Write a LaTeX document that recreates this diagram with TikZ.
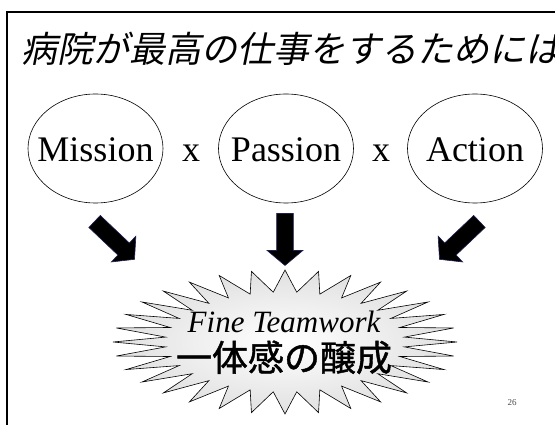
\documentclass[tikz,border=0pt]{standalone}
\usepackage{fontspec}
\setmainfont{Liberation Serif}
\newfontfamily\jpb[FakeBold=1.2]{Noto Sans CJK JP}
\newfontfamily\jpit[FakeSlant=0.2]{Noto Sans CJK JP}
\usetikzlibrary{shapes.geometric,shapes.arrows}
\tikzset{
  oval/.style={ellipse, draw=black, line width=0.6pt, minimum width=135pt, minimum height=109pt, inner sep=0pt},
  word/.style={font=\fontsize{36}{40}\selectfont, inner sep=0pt, anchor=base},
  times/.style={font=\fontsize{36}{40}\selectfont, inner sep=0pt, anchor=base},
  blockarrow/.style={single arrow, fill=black, draw={rgb,255:red,30;green,30;blue,80}, line width=0.6pt,
    minimum height=#1, single arrow head extend=9.5pt, inner xsep=0pt, inner ysep=8pt,
    single arrow tip angle=100, single arrow head indent=0pt},
  burst/.style={draw=black, line width=0.6pt, inner color=white, outer color=black!12},
}
\begin{document}
\begin{tikzpicture}[x=1pt,y=-1pt]
\useasboundingbox (0,0) rectangle (555,425);
\clip (0,0) rectangle (555,425);
\fill[white] (0,0) rectangle (555,425);
% frame
\coordinate (fbl) at (7,430);
\coordinate (ftl) at (7,12);
\coordinate (ftr) at (560,12);
\draw[line width=2pt] (fbl) -- (ftl) -- (ftr);
% title
\node[anchor=base west, inner sep=0pt, font=\jpit\fontsize{36}{40}\selectfont] (title) at (21,63) {病院が最高の仕事をするためには};
% ellipses
\node[oval] (mission) at (95.5,148.5) {};
\node[oval] (passion) at (286,148.5) {};
\node[oval] (action) at (475,148.5) {};
\node[word] (tm) at (95.5,162) {Mission};
\node[word] (tp) at (286,162) {Passion};
\node[word] (ta) at (475,162) {Action};
\node[times] (x1) at (191,162) {x};
\node[times] (x2) at (381,162) {x};
% arrows
\node[blockarrow=55pt, rotate=-43.5] (arrL) at (112,238) {};
\node[blockarrow=52pt, rotate=-90] (arrM) at (285,236) {};
\node[blockarrow=55pt, rotate=-136.5] (arrR) at (462,238) {};
% burst
\shade[burst] plot[samples at={0,...,63}, variable=\k]
  ({285 + (mod(\k,2)==0 ? 172 : 120)*cos(\k*5.625)}, {342 + (mod(\k,2)==0 ? 72 : 50)*sin(\k*5.625)}) -- cycle;
\node[inner sep=0pt, anchor=base, font=\itshape\fontsize{31}{34}\selectfont] (fine) at (284,332) {Fine Teamwork};
\node[inner sep=0pt, anchor=base, font=\jpb\fontsize{36}{40}\selectfont] (ittai) at (284,371) {一体感の醸成};
% page number
\node[inner sep=0pt, font=\fontsize{9}{10}\selectfont, text=black!70] (pg) at (512,403) {26};
\end{tikzpicture}
\end{document}
